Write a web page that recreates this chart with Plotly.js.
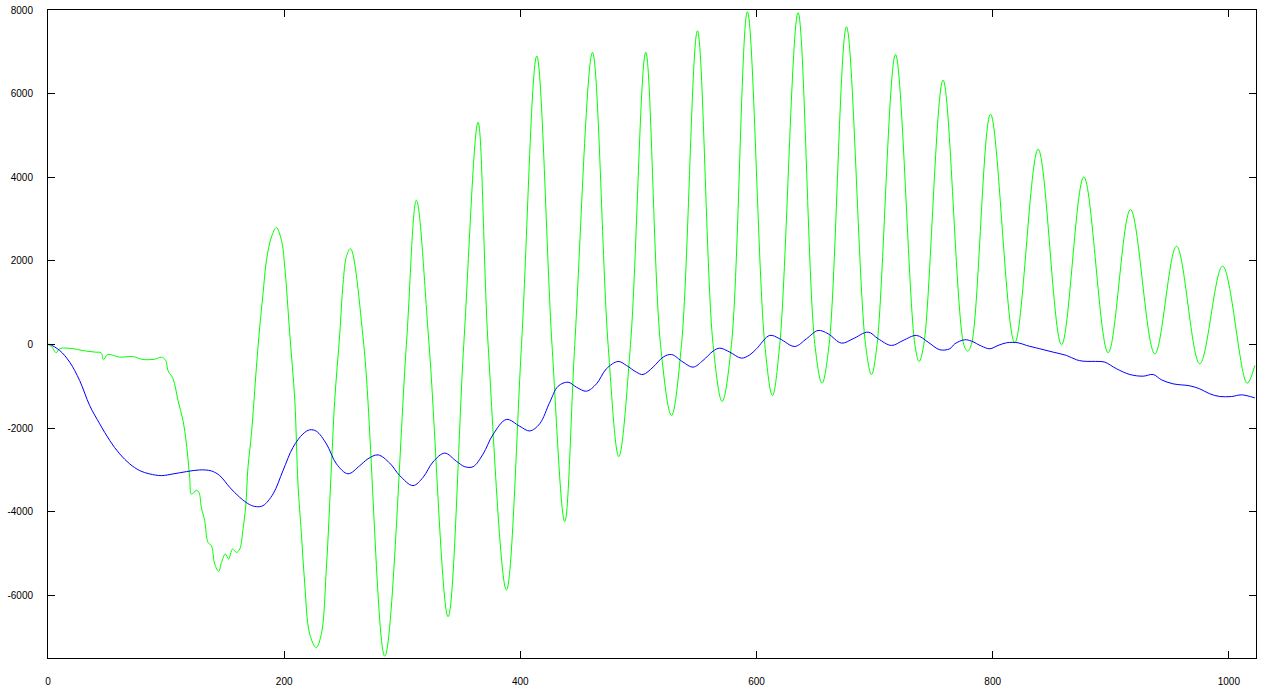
<!DOCTYPE html>
<html>
<head>
<meta charset="utf-8">
<script src="https://cdn.plot.ly/plotly-3.0.1.min.js"></script>
<style>html,body{margin:0;padding:0;background:#fff;}#chart{width:1266px;height:688px;}</style>
</head>
<body>
<div id="chart"></div>
<script>
// Green series
const greenX = [0,3,7,10,21,29,40,45,47,50.6,60.7,71.7,80.2,90.4,96,99.7,101.6,105.9,110.1,114.3,117.2,120,121.5,125.7,127.9,129.9,132.7,135.5,138.4,141.2,144.6,146.9,150.2,153,156.2,159.6,162.4,165.2,167.4,169.4,172.3,176.5,179.3,182.1,185,189.2,193.4,197.7,200.5,204.7,209,211.7,214.6,217.4,221.6,227.1,231.5,235.8,240,242.8,247.1,249.9,252.7,256.1,
  267.4,285.2,303.5,312,322.7,338.8,352.1,364.2,372.7,388.2,401,413.9,426.8,437.6,446.1,461.1,474.3,483.4,493.3,506.2,518.7,528,536.5,550,563.2,570.9,578.8,592.3,607,613.5,619.7,635.2,649.4,655.5,661.5,676.2,692.3,697.4,702.1,717.7,734.1,737.7,741.7,758,775.5,778.7,782,798.2,818.7,838.5,858.3,877.2,897.8,916.7,937.3,955.7,975.4,994.7,1015.5,1022];
const greenY = [0,-50,-200,-100,-100,-144,-184,-200,-366,-240,-304,-287,-359,-352,-304,-383,-623,-822,-1341,-1820,-2371,-3185,-3584,-3488,-3544,-3904,-4215,-4734,-4814,-5253,-5429,-5213,-5014,-5134,-4894,-4974,-4894,-4407,-3880,-2926,-2132,-543,415,1214,2012,2570,2795,2491,1853,263,-1341,-3337,-4527,-5725,-6922,-7250,-6922,-5325,-2929,-1341,263,1461,2100,2292,
  0,-7458,0,3449,0,-6514,0,5314,0,-5875,0,6898,0,-4240,0,6986,0,-2682,0,6986,0,-1700,0,7504,0,-1365,0,7959,0,-1221,0,7935,0,-927,0,7600,0,-719,0,6938,0,-407,0,6323,0,-160,0,5509,40,4670,-7,4007,-200,3226,-224,2347,-463,1875,-927,-503];

// Blue series
const blueX = [0,1.4,9.9,18.4,26.8,35.3,43.8,52.3,60.7,69.2,77.7,86.1,96,105.9,117.2,128.5,138.4,145.4,153.9,162.4,170.8,176.5,182.1,190.6,199,207.5,216,221.6,227.3,235.8,244.3,254.1,264,271,279.5,289.4,297.9,309.1,317.6,326,336,345.9,352.9,360,368.4,376.9,388.2,399.5,408,416.4,424.9,432,440.4,447.5,456,464.5,472.9,482.8,489.9,498.3,503.9,512.4,520.9,528,537.8,546.3,554.7,563.2,568.9,577.4,587.3,594.3,600,611.2,619.7,632.4,642.3,652.2,660.6,672,681.8,694.5,703,714.3,724.2,735.5,745.3,755.2,763.7,768,776.4,782.1,790.6,797.6,804.6,811.7,821.5,828.7,839.9,851.2,862.5,871,876.6,890.1,895,904.9,916.2,927.4,935.9,943,952.8,967,975.4,983.9,992.3,1002.3,1010.8,1022];
const blueY = [0,0,-144,-424,-862,-1461,-1899,-2299,-2618,-2857,-3018,-3097,-3137,-3097,-3042,-3001,-3026,-3137,-3417,-3657,-3832,-3880,-3856,-3576,-3018,-2460,-2139,-2043,-2076,-2379,-2857,-3094,-2900,-2735,-2642,-2839,-3137,-3377,-3181,-2812,-2599,-2795,-2924,-2924,-2623,-2154,-1794,-1957,-2069,-1897,-1384,-999,-903,-1022,-1118,-942,-582,-407,-503,-663,-719,-543,-304,-240,-423,-543,-383,-160,-88,-184,-328,-248,-104,216,136,-48,136,335,256,32,136,295,136,-24,96,216,55,-127,-103,17,112,79,-41,-103,-24,40,40,-24,-103,-184,-263,-367,-400,-407,-423,-582,-719,-759,-719,-846,-942,-990,-1062,-1181,-1245,-1245,-1206,-1278];

const xTicks = [0,200,400,600,800,1000];
const yTicks = [-6000,-4000,-2000,0,2000,4000,6000,8000];

const traces = [
  {x: greenX, y: greenY, type: 'scatter', mode: 'lines',
   line: {color: '#00ff00', width: 1, shape: 'spline', smoothing: 1}, hoverinfo: 'skip'},
  {x: blueX, y: blueY, type: 'scatter', mode: 'lines',
   line: {color: '#0000ff', width: 1, shape: 'spline', smoothing: 1}, hoverinfo: 'skip'}
];

const axisFont = {family: 'Liberation Sans, Arial, sans-serif', size: 10, color: '#000'};
const layout = {
  width: 1266, height: 688,
  margin: {l: 48, r: 10, t: 10, b: 30, pad: 0},
  paper_bgcolor: '#fff', plot_bgcolor: '#fff',
  showlegend: false,
  xaxis: {
    range: [0, 1023], tickmode: 'array', tickvals: xTicks, ticktext: xTicks.map(String),
    ticks: 'inside', ticklen: 7, tickwidth: 1, tickcolor: '#000',
    showline: true, linecolor: '#000', linewidth: 1, mirror: 'ticks',
    showgrid: false, zeroline: false, tickfont: axisFont, ticklabelstandoff: 14
  },
  yaxis: {
    range: [-7500, 8000], tickmode: 'array', tickvals: yTicks, ticktext: yTicks.map(String),
    ticks: 'inside', ticklen: 7, tickwidth: 1, tickcolor: '#000',
    showline: true, linecolor: '#000', linewidth: 1, mirror: 'ticks',
    showgrid: false, zeroline: false, tickfont: axisFont, ticklabelstandoff: 12
  }
};

Plotly.newPlot('chart', traces, layout, {staticPlot: true, displayModeBar: false});
</script>
</body>
</html>
